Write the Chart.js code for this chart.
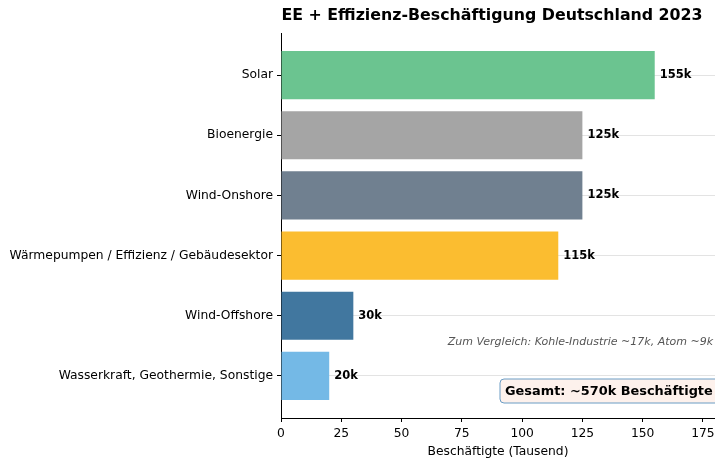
<!DOCTYPE html>
<html>
<head>
<meta charset="utf-8">
<script src="https://cdn.jsdelivr.net/npm/chart.js@4"></script>
<style>
  html, body { margin: 0; padding: 0; background: #fff; }
  canvas { display: block; }
</style>
</head>
<body>
<canvas id="chart" width="715" height="459"></canvas>
<script>
// Data
const categories = [
  'Solar',
  'Bioenergie',
  'Wind-Onshore',
  'Wärmepumpen / Effizienz / Gebäudesektor',
  'Wind-Offshore',
  'Wasserkraft, Geothermie, Sonstige'
];
const jobs = [155, 125, 125, 115, 30, 20]; // Tausend Beschäftigte
const xTicks = [0, 25, 50, 75, 100, 125, 150, 175];
const barColors = ['#6bc490', '#a5a5a5', '#708090', '#fbbd30', '#41779f', '#74b9e6'];

const titleText = 'EE + Effizienz-Beschäftigung Deutschland 2023';
const noteText = 'Zum Vergleich: Kohle-Industrie ~17k, Atom ~9k';
const totalText = 'Gesamt: ~570k Beschäftigte';

const FONT = '"DejaVu Sans", sans-serif';

// Title, value labels and the two annotations
const overlayPlugin = {
  id: 'overlay',
  afterDraw(chart) {
    const ctx = chart.ctx;
    const xs = chart.scales.x;
    const ys = chart.scales.y;

    ctx.save();
    // title
    ctx.fillStyle = '#000';
    ctx.font = 'bold 15.8px ' + FONT;
    ctx.textAlign = 'center';
    ctx.textBaseline = 'middle';
    ctx.fillText(titleText, 492, 16);

    // value labels
    ctx.font = 'bold 11.5px ' + FONT;
    ctx.textAlign = 'left';
    jobs.forEach((v, i) => {
      ctx.fillText(v + 'k', xs.getPixelForValue(v) + 5, ys.getPixelForValue(i));
    });

    // comparison note
    ctx.fillStyle = '#555';
    ctx.font = 'italic 11px ' + FONT;
    ctx.textAlign = 'right';
    ctx.fillText(noteText, 713, 342);

    // total box
    ctx.font = 'bold 12.9px ' + FONT;
    const w = ctx.measureText(totalText).width;
    ctx.beginPath();
    ctx.roundRect(500, 379, w + 16, 24, 4);
    ctx.fillStyle = '#fdf1ec';
    ctx.fill();
    ctx.strokeStyle = '#6a9cc4';
    ctx.lineWidth = 1;
    ctx.stroke();
    ctx.fillStyle = '#000';
    ctx.textAlign = 'left';
    ctx.fillText(totalText, 505, 391.5);
    ctx.restore();
  }
};

const chart = new Chart(document.getElementById('chart'), {
  type: 'bar',
  data: {
    datasets: [{
      data: jobs.map((v, i) => ({ x: v, y: i })),
      backgroundColor: barColors,
      borderWidth: 0,
      categoryPercentage: 1,
      barPercentage: 0.8
    }]
  },
  options: {
    indexAxis: 'y',
    responsive: false,
    animation: false,
    devicePixelRatio: 1,
    layout: { padding: { top: 33, left: 0, right: 0, bottom: 0 } },
    plugins: {
      legend: { display: false },
      tooltip: { enabled: false }
    },
    scales: {
      x: {
        type: 'linear',
        min: 0,
        max: 180,
        afterFit(scale) {
          scale.height = 41;
          // no extra room for the last tick label, the plot runs to the edge
          scale.paddingRight = 0;
        },
        afterBuildTicks(scale) {
          scale.ticks = xTicks.map((v) => ({ value: v }));
        },
        ticks: {
          color: '#000',
          padding: 4,
          font: { family: FONT, size: 12.3 },
          maxRotation: 0
        },
        grid: {
          drawOnChartArea: false,
          tickColor: '#000',
          tickLength: 4
        },
        border: { color: '#000', width: 1 },
        title: {
          display: true,
          text: 'Beschäftigte (Tausend)',
          color: '#000',
          font: { family: FONT, size: 12.3 },
          padding: { top: 0, bottom: 0 }
        }
      },
      y: {
        type: 'linear',
        reverse: true,
        offset: false,
        min: -0.7,
        max: 5.7,
        z: 1,
        afterFit(scale) { scale.width = 281; },
        afterBuildTicks(scale) {
          scale.ticks = categories.map((c, i) => ({ value: i }));
        },
        ticks: {
          color: '#000',
          padding: 4,
          font: { family: FONT, size: 12.3 },
          callback: (v) => categories[v]
        },
        grid: {
          offset: false,
          color: 'rgba(222,222,222,0.85)',
          lineWidth: 1,
          tickColor: '#000',
          tickLength: 4
        },
        border: { color: '#000', width: 1 }
      }
    }
  },
  plugins: [overlayPlugin]
});
</script>
</body>
</html>
